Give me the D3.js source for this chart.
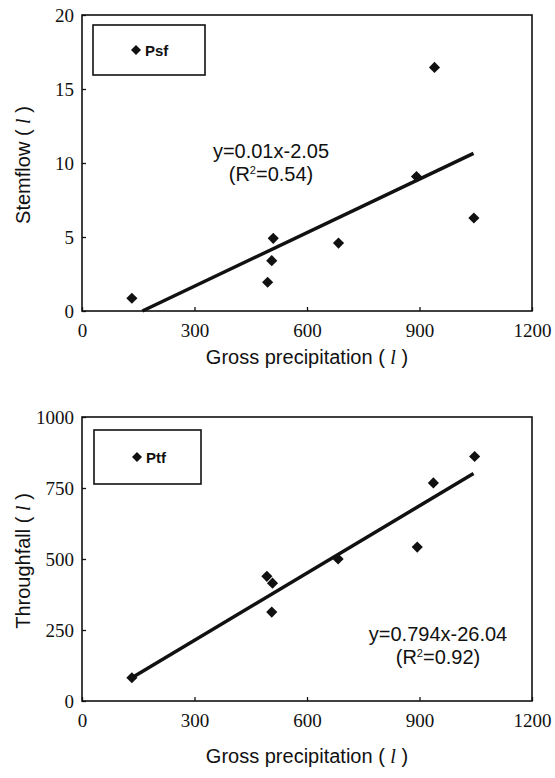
<!DOCTYPE html>
<html>
<head>
<meta charset="utf-8">
<script src="https://cdn.jsdelivr.net/npm/d3@7"></script>
<style>
  body { margin: 0; background: #fff; }
  svg { display: block; }
  .tick text { font-family: "Liberation Serif", "DejaVu Serif", serif; font-size: 19px; fill: #111; }
  .axestext { font-family: "Liberation Sans", Arial, sans-serif; font-size: 20px; fill: #111; }
  .eq { font-family: "Liberation Sans", Arial, sans-serif; font-size: 20px; fill: #111; }
  .legend { font-family: "Liberation Sans", Arial, sans-serif; font-size: 15px; font-weight: bold; fill: #111; }
</style>
</head>
<body>
<div id="visualisation"></div>
<script>
// x --> gross precipitation (l)

// stemflow panel
var sfX = [133, 495, 506, 510, 684, 892, 940, 1045];
var sfY = [0.86, 1.94, 3.40, 4.91, 4.59, 9.08, 16.46, 6.28];
var sfTrendX = [161, 1044];
var sfTrendY = [0, 10.65];
var sfTicks = [0, 5, 10, 15, 20];

// throughfall panel
var tfX = [133, 493, 508, 506, 683, 894, 937, 1047];
var tfY = [82, 439, 415, 313, 500, 542, 768, 861];
var tfTrendX = [133, 1044];
var tfTrendY = [82, 801];
var tfTicks = [0, 250, 500, 750, 1000];

var xTicks = [0, 300, 600, 900, 1200];

var width = 555;
var height = 778;

var vis = d3.select("#visualisation")
    .append("svg")
        .attr("width", width)
        .attr("height", height);

var drawPanel = function (opt) {
    var xScale = d3.scaleLinear()
        .domain([0, 1200])
        .range([opt.left, opt.right]);

    var yScale = d3.scaleLinear()
        .domain([0, opt.ymax])
        .range([opt.bottom, opt.top]);

    var g = vis.append("g");

    // frame
    g.append("rect")
        .attr("x", opt.left)
        .attr("y", opt.top)
        .attr("width", opt.right - opt.left)
        .attr("height", opt.bottom - opt.top)
        .attr("fill", "none")
        .attr("stroke", "#111")
        .attr("stroke-width", 1.6);

    var xAxis = d3.axisBottom(xScale)
        .tickValues(xTicks)
        .tickFormat(d3.format("d"))
        .tickSizeInner(-4)
        .tickSizeOuter(0)
        .tickPadding(13);

    var yAxis = d3.axisLeft(yScale)
        .tickValues(opt.yTicks)
        .tickFormat(d3.format("d"))
        .tickSizeInner(-4)
        .tickSizeOuter(0)
        .tickPadding(8);

    g.append("g")
        .attr("class", "x axis")
        .attr("transform", "translate(0," + opt.bottom + ")")
        .call(xAxis);

    g.append("g")
        .attr("class", "y axis")
        .attr("transform", "translate(" + opt.left + ",0)")
        .call(yAxis);

    g.selectAll(".axis .domain").remove();
    g.selectAll(".axis line").attr("stroke", "#111").attr("stroke-width", 1.3);

    // axis titles
    var xt = g.append("text")
        .attr("class", "axestext")
        .attr("text-anchor", "middle")
        .attr("x", (opt.left + opt.right) / 2)
        .attr("y", opt.xTitleY);
    xt.append("tspan").text("Gross precipitation ( ");
    xt.append("tspan").style("font-style", "italic").style("font-family", "Liberation Serif, serif").text("l");
    xt.append("tspan").text(" )");

    var yt = g.append("text")
        .attr("class", "axestext")
        .attr("text-anchor", "middle")
        .attr("transform", "translate(30," + ((opt.top + opt.bottom) / 2 + 2) + ")rotate(-90)");
    yt.append("tspan").text(opt.yTitle + " ( ");
    yt.append("tspan").style("font-style", "italic").style("font-family", "Liberation Serif, serif").text("l");
    yt.append("tspan").text(" )");

    // legend
    g.append("rect")
        .attr("x", opt.legend[0])
        .attr("y", opt.legend[1])
        .attr("width", opt.legend[2])
        .attr("height", opt.legend[3])
        .attr("fill", "#fff")
        .attr("stroke", "#111")
        .attr("stroke-width", 1.6);

    g.append("path")
        .attr("d", d3.symbol(d3.symbolSquare, 50)())
        .attr("transform", "translate(" + (opt.legend[0] + 43) + "," + (opt.legend[1] + opt.legend[3] / 2) + ")rotate(45)")
        .attr("fill", "#111");

    g.append("text")
        .attr("class", "legend")
        .attr("x", opt.legend[0] + 52)
        .attr("y", opt.legend[1] + opt.legend[3] / 2 + 5.5)
        .text(opt.name);

    // trend line
    var trend = opt.trendX.map(function (x, i) {
        return { x: x, y: opt.trendY[i] };
    });

    var line = d3.line()
        .x(function (d) { return xScale(d.x); })
        .y(function (d) { return yScale(d.y); });

    g.append("path")
        .data([trend])
        .attr("d", line)
        .attr("stroke", "#111")
        .attr("stroke-width", 3.5)
        .attr("fill", "none");

    // points
    var pts = opt.xs.map(function (x, i) {
        return { x: x, y: opt.ys[i] };
    });

    g.selectAll(".pt")
        .data(pts)
        .enter()
        .append("path")
            .attr("class", "pt")
            .attr("d", d3.symbol(d3.symbolSquare, 62)())
            .attr("transform", function (d) {
                return "translate(" + xScale(d.x) + "," + yScale(d.y) + ")rotate(45)";
            })
            .attr("fill", "#111");

    // equation
    opt.eq.forEach(function (s, i) {
        var t = g.append("text")
            .attr("class", "eq")
            .attr("text-anchor", "middle")
            .attr("x", opt.eqX)
            .attr("y", opt.eqY + i * 23);
        if (i === 0) {
            t.text(s);
        } else {
            t.append("tspan").text("(R");
            t.append("tspan").attr("font-size", 11).attr("dy", -7).text("2");
            t.append("tspan").attr("dy", 7).text(s);
        }
    });
};

drawPanel({
    left: 82, right: 532, top: 15, bottom: 311,
    ymax: 20, yTicks: sfTicks,
    xs: sfX, ys: sfY, trendX: sfTrendX, trendY: sfTrendY,
    yTitle: "Stemflow", name: "Psf",
    legend: [93, 25, 112, 50],
    eq: ["y=0.01x-2.05", "=0.54)"], eqX: 271, eqY: 158,
    xTitleY: 364
});

drawPanel({
    left: 82, right: 532, top: 417, bottom: 701,
    ymax: 1000, yTicks: tfTicks,
    xs: tfX, ys: tfY, trendX: tfTrendX, trendY: tfTrendY,
    yTitle: "Throughfall", name: "Ptf",
    legend: [94, 430, 107, 54],
    eq: ["y=0.794x-26.04", "=0.92)"], eqX: 438, eqY: 641,
    xTitleY: 763
});
</script>
</body>
</html>
